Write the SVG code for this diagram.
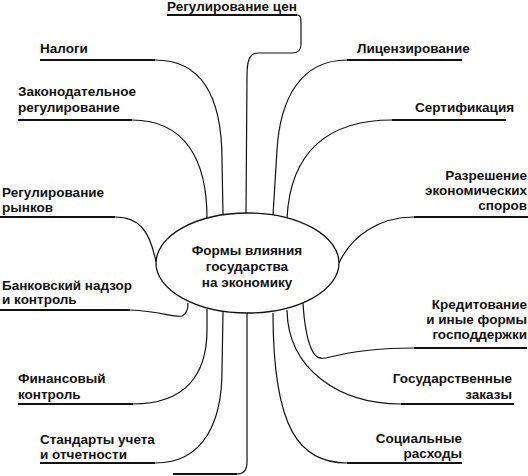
<svg xmlns="http://www.w3.org/2000/svg" width="528" height="476" viewBox="0 0 528 476">
<style>
text{font-family:"Liberation Sans",Arial,sans-serif;font-size:13.5px;font-weight:bold;fill:#111}
.e{text-anchor:end}
.m{text-anchor:middle}
.u{stroke:#111;stroke-width:2;fill:none}
.c{stroke:#111;stroke-width:1.2;fill:none}
</style>
<rect width="528" height="476" fill="#fff"/>
<g id="connectors">
<path class="c" d="M297 15 C301 15 301 18 301 25 L301 44 C301 51 298 53 292 53 L258 53 C250 53 247 60 247 75 L246 213"/>
<path class="c" d="M155 60 C210 60 222 110 222 160 L223 215"/>
<path class="c" d="M132 120 C185 120 207 160 207 218"/>
<path class="c" d="M347 60 C300 60 280 100 277 150 L273 215"/>
<path class="c" d="M392 120 C330 120 290 150 287 219"/>
<path class="c" d="M115 217 C140 217 150 232 156 262"/>
<path class="c" d="M130 310 C160 311 175 318 182 316 C187 314 188 308 188 303"/>
<path class="c" d="M133 404 C185 404 207 375 207 330 L207 309"/>
<path class="c" d="M155 463 C205 463 222 420 222 370 L223 312"/>
<path class="c" d="M247 313 L247 462 C247 470 244 474 237 474"/>
<path class="u" d="M237 474 L173 474"/>
<path class="c" d="M414 217 C380 217 352 235 339 263"/>
<path class="c" d="M414 348 C380 348 350 352 330 357 C320 360 315 358 311 348 C306 336 304 320 303 303"/>
<path class="c" d="M401 404 C340 404 288 370 287 310"/>
<path class="c" d="M347 463 C300 463 273 430 273 313"/>
</g>
<g id="center">
<ellipse cx="247.5" cy="263" rx="91.5" ry="50" fill="#fff" stroke="#111" stroke-width="1.3"/>
<text class="m" x="247" y="255">Формы влияния</text>
<text class="m" x="247" y="271">государства</text>
<text class="m" x="247" y="287">на экономику</text>
</g>
<g id="n-prices"><text x="167" y="11">Регулирование цен</text><path class="u" d="M167 15 H297"/></g>
<g id="n-taxes"><text x="40" y="53">Налоги</text><path class="u" d="M40 60 H155"/></g>
<g id="n-legal"><text x="18" y="96">Законодательное</text><text x="18" y="112">регулирование</text><path class="u" d="M18 120 H132"/></g>
<g id="n-markets"><text x="2" y="197">Регулирование</text><text x="2" y="212">рынков</text><path class="u" d="M0 217 H115"/></g>
<g id="n-bank"><text x="2" y="290">Банковский надзор</text><text x="2" y="304">и контроль</text><path class="u" d="M0 310 H130"/></g>
<g id="n-fin"><text x="18" y="383">Финансовый</text><text x="18" y="399">контроль</text><path class="u" d="M18 404 H133"/></g>
<g id="n-std"><text x="40" y="444">Стандарты учета</text><text x="40" y="459">и отчетности</text><path class="u" d="M40 463 H155"/></g>
<g id="n-lic"><text x="357" y="53">Лицензирование</text><path class="u" d="M347 60 H462"/></g>
<g id="n-cert"><text x="415" y="112">Сертификация</text><path class="u" d="M392 120 H506"/></g>
<g id="n-disp"><text class="e" x="527" y="180">Разрешение</text><text class="e" x="527" y="195">экономических</text><text class="e" x="527" y="210">споров</text><path class="u" d="M414 217 H528"/></g>
<g id="n-credit"><text class="e" x="527" y="309">Кредитование</text><text class="e" x="527" y="324">и иные формы</text><text class="e" x="527" y="339">господдержки</text><path class="u" d="M414 348 H527"/></g>
<g id="n-orders"><text class="e" x="512" y="383">Государственные</text><text class="e" x="512" y="399">заказы</text><path class="u" d="M401 404 H514"/></g>
<g id="n-social"><text class="e" x="462" y="443">Социальные</text><text class="e" x="462" y="458">расходы</text><path class="u" d="M347 463 H462"/></g>
</svg>
